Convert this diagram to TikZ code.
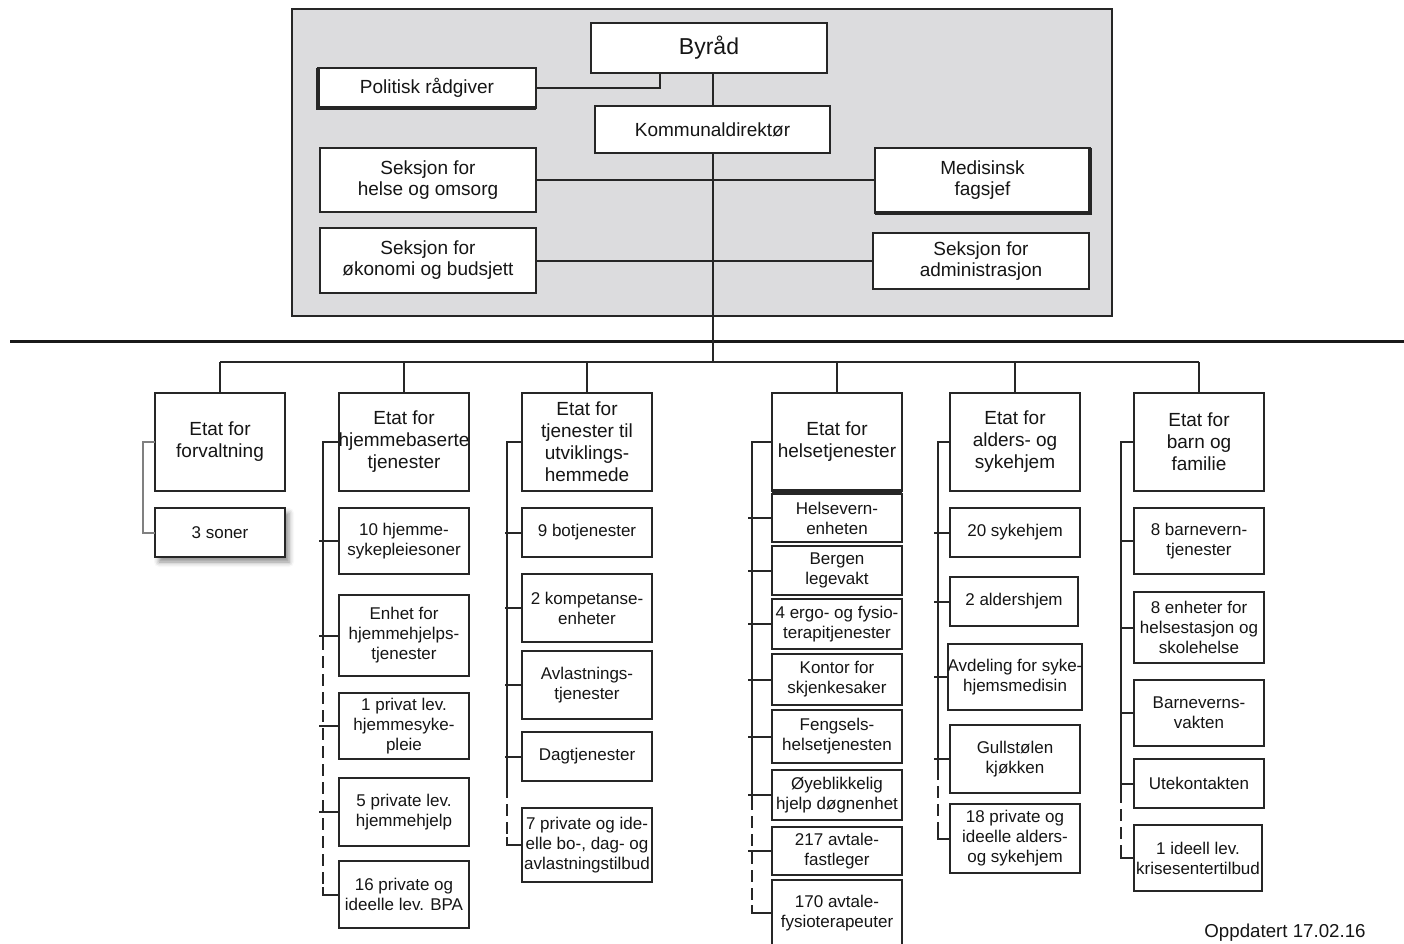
\documentclass[tikz,border=0pt]{standalone}
\usepackage{fontspec}
\setmainfont{Liberation Sans}
\usetikzlibrary{calc,shadows.blur}
\definecolor{bxc}{HTML}{262626}
\definecolor{lnc}{HTML}{262626}
\definecolor{txc}{HTML}{151515}
\definecolor{panelc}{HTML}{DCDCDE}
\newcommand\fsub{\fontsize{17}{20}\selectfont}
\newcommand\fetat{\fontsize{19}{22}\selectfont}
\newcommand\ftop{\fontsize{19}{21}\selectfont}
\newcommand\B[7][]{\node[bx,#1,minimum width={#4pt-#2pt},minimum height={#5pt-#3pt}] (#6) at ({(#2+#4)/2},{(#3+#5)/2}) {#7};}
\tikzset{
  bx/.style={draw=bxc,line width=2pt,fill=white,inner sep=0pt,outer sep=0pt,align=center,text=txc,font=\fsub},
  etat/.style={font=\fetat},
  topb/.style={font=\ftop},
  ln/.style={draw=lnc,line width=2pt},
  dl/.style={ln,dash pattern=on 12pt off 6pt,dash phase=12pt},
  thk/.style={draw=bxc,line width=3.5pt},
}
\begin{document}
\begin{tikzpicture}[x=1pt,y=-1pt]
\useasboundingbox (0,0) rectangle (1404,943);
% top panel
\B[fill=panelc,draw=lnc,line width=2pt]{292}{9}{1112}{316}{panel}{}
\B[topb,font=\fontsize{23}{26}\selectfont]{591}{23}{827}{73}{byr}{Byråd}
\B[topb]{318}{68}{536}{108}{pol}{Politisk rådgiver}
\B[topb]{595}{106}{830}{153}{kom}{Kommunaldirektør}
\B[topb]{320}{148}{536}{212}{hel}{Seksjon for\\helse og omsorg}
\B[topb]{875}{148}{1090}{213}{med}{Medisinsk\\fagsjef}
\B[topb]{320}{228}{536}{293}{oko}{Seksjon for\\økonomi og budsjett}
\B[topb]{873}{233}{1089}{289}{adm}{Seksjon for\\administrasjon}
\draw[thk] (pol.north west) -- (pol.south west) -- (pol.south east);
\draw[thk] (med.north east) -- (med.south east) -- (med.south west);
\coordinate (pj) at (660,0);
\draw[ln] (pol.east) -- (pol.east -| pj) -- (byr.south -| pj);
\draw[ln] (byr.south -| kom.north) -- (kom.north);
\draw[ln] (hel.east) -- (hel.east -| med.west);
\draw[ln] (oko.east) -- (oko.east -| adm.west);
% long line and bus
\coordinate (hl) at (10,341);
\coordinate (hr) at (1404,341);
\draw[line width=3pt,draw=black!90] (hl) -- (hr);
\coordinate (bus) at (712,362);
\draw[ln] (kom.south) -- (kom.south |- bus);
% etats
\B[etat]{155}{393}{285}{491}{e1}{Etat for\\forvaltning}
\B[etat]{339}{393}{469}{491}{e2}{Etat for\\hjemmebaserte\\tjenester}
\B[etat]{522}{393}{652}{491}{e3}{Etat for\\tjenester til\\utviklings-\\hemmede}
\B[etat]{772}{393}{902}{491}{e4}{Etat for\\helsetjenester}
\B[etat]{950}{393}{1080}{491}{e5}{Etat for\\alders- og\\sykehjem}
\B[etat]{1134}{393}{1264}{491}{e6}{Etat for\\barn og\\familie}
\draw[thk] (e4.south west) -- (e4.south east);
\draw[ln] (e1.north |- bus) -- (e6.north |- bus);
\foreach \e in {e1,e2,e3,e4,e5,e6} \draw[ln] (\e.north) -- (\e.north |- bus);
% column 1
\B[blur shadow={shadow xshift=4pt,shadow yshift=-5pt,shadow blur radius=5pt,shadow opacity=45}]{155}{508}{285}{557}{c1a}{3 soner}
\coordinate (s1) at (143,0);
\draw[ln,draw=gray] (e1.west) -- (e1.west -| s1) -- (c1a.west -| s1) -- (c1a.west);
% column 2
\B{339}{508}{469}{574}{c2a}{10 hjemme-\\sykepleiesoner}
\B{339}{595}{469}{676}{c2b}{Enhet for\\hjemmehjelps-\\tjenester}
\B{339}{693}{469}{759}{c2c}{1 privat lev.\\hjemmesyke-\\pleie}
\B{339}{778}{469}{846}{c2d}{5 private lev.\\hjemmehjelp}
\B{339}{861}{469}{928}{c2e}{16 private og\\ideelle lev. BPA}
\coordinate (s2) at (323,0);
\coordinate (k2) at (323,650);
\draw[ln] (e2.west) -- (e2.west -| s2) -- (k2);
\draw[dl] (k2) -- ($(c2e.west -| s2)+(0,-8)$);
\draw[ln] (c2e.west) -- (c2e.west -| s2) -- ++(0,-8);
\foreach \n in {c2a,c2b,c2c,c2d} \draw[ln] (\n.west) -- ($(\n.west -| s2)+(-4,0)$);
% column 3
\B{522}{508}{652}{557}{c3a}{9 botjenester}
\B{522}{574}{652}{642}{c3b}{2 kompetanse-\\enheter}
\B{522}{651}{652}{719}{c3c}{Avlastnings-\\tjenester}
\B{522}{732}{652}{781}{c3d}{Dagtjenester}
\B{522}{808}{652}{882}{c3e}{7 private og ide-\\elle bo-, dag- og\\avlastningstilbud}
\coordinate (s3) at (507,0);
\coordinate (k3) at (507,798);
\draw[ln] (e3.west) -- (e3.west -| s3) -- (k3);
\draw[dl] (k3) -- ($(c3e.west -| s3)+(0,-8)$);
\draw[ln] (c3e.west) -- (c3e.west -| s3) -- ++(0,-8);
\foreach \n in {c3a,c3b,c3c,c3d} \draw[ln] (\n.west) -- ($(\n.west -| s3)+(-2,0)$);
% column 4
\B{772}{494}{902}{542}{c4a}{Helsevern-\\enheten}
\B{772}{546}{902}{595}{c4b}{Bergen\\legevakt}
\B{772}{599}{902}{649}{c4c}{4 ergo- og fysio-\\terapitjenester}
\B{772}{654}{902}{705}{c4d}{Kontor for\\skjenkesaker}
\B{772}{710}{902}{763}{c4e}{Fengsels-\\helsetjenesten}
\B{772}{770}{902}{820}{c4f}{Øyeblikkelig\\hjelp døgnenhet}
\B{772}{827}{902}{875}{c4g}{217 avtale-\\fastleger}
\B{772}{880}{902}{946}{c4h}{170 avtale-\\fysioterapeuter}
\coordinate (s4) at (752,0);
\coordinate (k4) at (752,810);
\draw[ln] (e4.west) -- (e4.west -| s4) -- (k4);
\draw[dl] (k4) -- ($(c4h.west -| s4)+(0,-8)$);
\draw[ln] (c4h.west) -- (c4h.west -| s4) -- ++(0,-8);
\foreach \n in {c4a,c4b,c4c,c4d,c4e,c4f,c4g} \draw[ln] (\n.west) -- ($(\n.west -| s4)+(-4,0)$);
% column 5
\B{950}{508}{1080}{557}{c5a}{20 sykehjem}
\B{950}{577}{1078}{626}{c5b}{2 aldershjem}
\B{950}{644}{1080}{710}{c5c}{Avdeling for syke-\\hjemsmedisin}
\B{950}{725}{1080}{793}{c5d}{Gullstølen\\kjøkken}
\B{950}{804}{1080}{873}{c5e}{18 private og\\ideelle alders-\\og sykehjem}
\coordinate (s5) at (938,0);
\coordinate (k5) at (938,780);
\draw[ln] (e5.west) -- (e5.west -| s5) -- (k5);
\draw[dl] (k5) -- ($(c5e.west -| s5)+(0,-8)$);
\draw[ln] (c5e.west) -- (c5e.west -| s5) -- ++(0,-8);
\foreach \n in {c5a,c5b,c5c,c5d} \draw[ln] (\n.west) -- ($(\n.west -| s5)+(-4,0)$);
% column 6
\B{1134}{508}{1264}{574}{c6a}{8 barnevern-\\tjenester}
\B{1134}{592}{1264}{663}{c6b}{8 enheter for\\helsestasjon og\\skolehelse}
\B{1134}{680}{1264}{746}{c6c}{Barneverns-\\vakten}
\B{1134}{759}{1264}{808}{c6d}{Utekontakten}
\B{1134}{825}{1262}{891}{c6e}{1 ideell lev.\\krisesentertilbud}
\coordinate (s6) at (1121,0);
\coordinate (k6) at (1121,803);
\draw[ln] (e6.west) -- (e6.west -| s6) -- (k6);
\draw[dl] (k6) -- ($(c6e.west -| s6)+(0,-8)$);
\draw[ln] (c6e.west) -- (c6e.west -| s6) -- ++(0,-8);
\foreach \n in {c6a,c6b,c6c,c6d} \draw[ln] (\n.west) -- ($(\n.west -| s6)+(-1,0)$);
% date
\node[text=txc,font=\fontsize{18.7}{21}\selectfont,inner sep=0pt] (upd) at (1285,933) {Oppdatert 17.02.16};
\end{tikzpicture}
\end{document}
